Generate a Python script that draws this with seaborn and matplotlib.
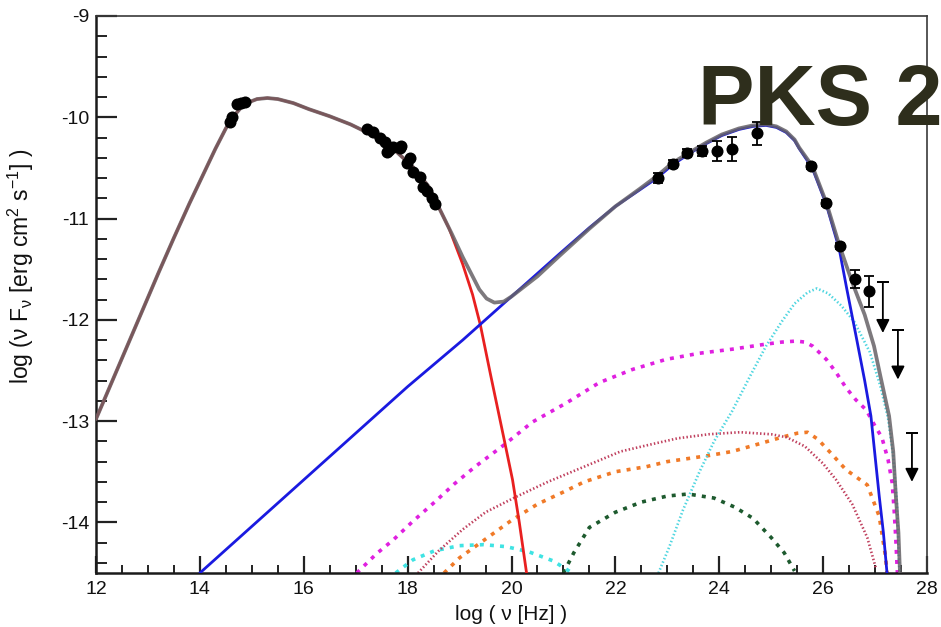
import matplotlib
matplotlib.use("Agg")
import matplotlib.pyplot as plt
import seaborn as sns
from matplotlib.ticker import MultipleLocator

# ---- model components: log nu [Hz] vs log nuFnu [erg cm^-2 s^-1] ----
total_x = [12.0, 12.3, 12.6, 12.9, 13.2, 13.5, 13.8, 14.05, 14.3, 14.5, 14.65, 14.8, 14.95,
           15.1, 15.3, 15.5, 15.8, 16.1, 16.5, 16.9, 17.3, 17.7, 18.1, 18.4, 18.62, 18.85,
           19.06, 19.25, 19.38, 19.52, 19.67, 19.85, 20.0, 20.5, 20.92, 21.5, 22.0, 22.46,
           22.8, 23.1, 23.45, 23.75, 24.05, 24.38, 24.65, 24.9, 25.1, 25.29, 25.45, 25.54,
           25.79, 26.06, 26.31, 26.56, 26.8, 26.98, 27.1, 27.27, 27.35, 27.4, 27.45, 27.48]
total_y = [-12.98, -12.62, -12.26, -11.9, -11.54, -11.19, -10.85, -10.58, -10.31, -10.11, -9.99,
           -9.9, -9.85, -9.82, -9.81, -9.82, -9.86, -9.92, -9.99, -10.07, -10.17, -10.3, -10.49,
           -10.68, -10.91, -11.15, -11.38, -11.57, -11.70, -11.79, -11.83, -11.82, -11.77, -11.57,
           -11.37, -11.1, -10.88, -10.71, -10.58, -10.45, -10.34, -10.25, -10.17, -10.11, -10.08,
           -10.07, -10.09, -10.14, -10.22, -10.3, -10.48, -10.84, -11.26, -11.63, -11.95, -12.26,
           -12.55, -12.95, -13.3, -13.74, -14.1, -14.5]

sync_x = [12.0, 12.3, 12.6, 12.9, 13.2, 13.5, 13.8, 14.05, 14.3, 14.5, 14.65, 14.8, 14.95,
          15.1, 15.3, 15.5, 15.8, 16.1, 16.5, 16.9, 17.3, 17.7, 18.1, 18.4, 18.62, 18.8,
          19.06, 19.25, 19.4, 19.6, 19.87, 20.02, 20.15, 20.29]
sync_y = [-12.98, -12.62, -12.26, -11.9, -11.54, -11.19, -10.85, -10.58, -10.31, -10.11, -9.99,
          -9.9, -9.85, -9.82, -9.81, -9.82, -9.86, -9.92, -9.99, -10.07, -10.17, -10.3, -10.49,
          -10.68, -10.91, -11.1, -11.45, -11.75, -12.05, -12.55, -13.21, -13.58, -14.0, -14.5]

ic_x = [14.0, 15.0, 16.0, 17.0, 18.0, 19.06, 20.0, 20.92, 21.5, 22.0, 22.46, 22.8, 23.1, 23.45,
        23.75, 24.05, 24.38, 24.65, 24.9, 25.1, 25.29, 25.45, 25.54, 25.79, 26.06, 26.31, 26.45,
        26.63, 26.8, 26.92, 27.08, 27.16, 27.23]
ic_y = [-14.5, -14.04, -13.58, -13.12, -12.66, -12.2, -11.77, -11.35, -11.09, -10.88, -10.72, -10.6,
        -10.47, -10.35, -10.26, -10.18, -10.12, -10.09, -10.08, -10.1, -10.15, -10.23, -10.31, -10.5,
        -10.86, -11.3, -11.68, -12.15, -12.6, -12.95, -13.74, -14.1, -14.5]

mag_x = [17.02, 17.4, 17.73, 18.1, 18.52, 18.9, 19.3, 19.87, 20.4, 21.06, 21.69, 22.33, 22.98,
         23.62, 24.25, 24.9, 25.2, 25.48, 25.65, 25.8, 26.06, 26.25, 26.44, 26.63, 26.83, 27.0,
         27.13, 27.25, 27.33, 27.37, 27.4, 27.43]
mag_y = [-14.5, -14.31, -14.17, -13.99, -13.8, -13.62, -13.45, -13.23, -13.01, -12.82, -12.62,
         -12.49, -12.39, -12.33, -12.29, -12.24, -12.22, -12.21, -12.22, -12.26, -12.39, -12.52,
         -12.67, -12.79, -12.89, -13.05, -13.16, -13.38, -13.61, -13.9, -14.17, -14.5]

cyd_x = [17.77, 18.1, 18.52, 19.0, 19.46, 19.9, 20.33, 20.8, 21.17]
cyd_y = [-14.5, -14.37, -14.28, -14.23, -14.22, -14.24, -14.29, -14.38, -14.5]

rdot_x = [18.2, 18.6, 19.06, 19.5, 20.08, 20.7, 21.4, 22.1, 22.6, 23.2, 23.8, 24.4, 25.0, 25.3,
          25.65, 26.0, 26.25, 26.56, 26.85, 27.02]
rdot_y = [-14.5, -14.28, -14.07, -13.9, -13.75, -13.6, -13.45, -13.3, -13.24, -13.17, -13.13,
          -13.11, -13.13, -13.16, -13.25, -13.42, -13.58, -13.82, -14.15, -14.46]

ora_x = [18.7, 19.0, 19.46, 20.0, 20.5, 21.0, 21.4, 22.0, 22.6, 23.0, 23.8, 24.25, 24.8, 25.2,
         25.5, 25.7, 25.9, 26.12, 26.44, 26.85, 27.08, 27.2, 27.23]
ora_y = [-14.5, -14.35, -14.18, -13.98, -13.82, -13.7, -13.6, -13.5, -13.45, -13.4, -13.34, -13.3,
         -13.22, -13.16, -13.12, -13.11, -13.18, -13.3, -13.48, -13.63, -13.94, -14.33, -14.5]

grn_x = [21.0, 21.2, 21.5, 22.0, 22.5, 23.0, 23.4, 23.9, 24.3, 24.65, 25.0, 25.25, 25.45]
grn_y = [-14.5, -14.3, -14.05, -13.9, -13.8, -13.74, -13.72, -13.76, -13.85, -13.96, -14.15,
         -14.3, -14.48]

cdot_x = [22.83, 23.04, 23.3, 23.62, 23.9, 24.25, 24.6, 24.9, 25.2, 25.45, 25.7, 25.88, 26.1,
          26.35, 26.6, 26.9, 27.1, 27.25, 27.35, 27.42, 27.47]
cdot_y = [-14.5, -14.24, -13.88, -13.5, -13.2, -12.9, -12.55, -12.26, -12.02, -11.84, -11.73,
          -11.69, -11.74, -11.86, -12.02, -12.32, -12.65, -12.97, -13.35, -13.8, -14.5]

# ---- observed fluxes ----
opt_x = [14.58, 14.62, 14.72, 14.8, 14.87]
opt_y = [-10.05, -10.0, -9.87, -9.86, -9.85]

xray_x = [17.21, 17.33, 17.46, 17.56, 17.6, 17.65, 17.71, 17.85, 17.87, 17.98, 18.04, 18.1,
          18.23, 18.29, 18.38, 18.46, 18.52]
xray_y = [-10.12, -10.15, -10.2, -10.24, -10.34, -10.32, -10.29, -10.3, -10.28, -10.45, -10.4,
          -10.54, -10.59, -10.69, -10.73, -10.8, -10.86]

gev_x = [22.83, 23.1, 23.38, 23.67, 23.96, 24.25, 24.72]
gev_y = [-10.6, -10.46, -10.35, -10.33, -10.33, -10.31, -10.16]
gev_err = [0.05, 0.04, 0.04, 0.05, 0.1, 0.12, 0.11]

tev_x = [25.77, 26.06, 26.33, 26.62, 26.88]
tev_y = [-10.48, -10.85, -11.27, -11.6, -11.72]
tev_err = [0.03, 0.03, 0.03, 0.09, 0.15]

ul_x = [27.15, 27.44, 27.71]
ul_top = [-11.63, -12.1, -13.12]
ul_tip = [-12.13, -12.59, -13.6]

xticks = [12, 14, 16, 18, 20, 22, 24, 26, 28]
yticks = [-14, -13, -12, -11, -10, -9]

sns.set_theme(style="ticks")
plt.rcParams["font.family"] = ["Liberation Sans", "DejaVu Sans"]
plt.rcParams["axes.unicode_minus"] = False
plt.rcParams["mathtext.fontset"] = "custom"
plt.rcParams["mathtext.rm"] = "Liberation Sans"
plt.rcParams["mathtext.it"] = "Liberation Sans:italic"

fig, ax = plt.subplots(figsize=(9.41, 6.27), dpi=100)
fig.subplots_adjust(left=96 / 941, right=927 / 941, bottom=54 / 627, top=611 / 627)


def curve(x, y, color, lw, ls="-", z=2, alpha=1.0):
    sns.lineplot(x=x, y=y, ax=ax, color=color, linewidth=lw, linestyle=ls,
                 estimator=None, sort=False, zorder=z, alpha=alpha, legend=False)


dash = (0, (1.1, 1.7))
dots = (0, (0.55, 0.85))
curve(grn_x, grn_y, "#1d5a2e", 2.6, dash, z=2)
curve(cyd_x, cyd_y, "#3fe3e3", 2.6, dash, z=2)
curve(ora_x, ora_y, "#f07a28", 2.6, dash, z=2)
curve(rdot_x, rdot_y, "#c0405e", 1.9, dots, z=2)
curve(cdot_x, cdot_y, "#4fd6e0", 1.9, dots, z=2)
curve(mag_x, mag_y, "#e020e0", 2.6, dash, z=2)
curve(sync_x, sync_y, "#e82020", 2.0, z=3)
curve(ic_x, ic_y, "#1a1ae0", 2.0, z=3)
curve(total_x, total_y, "#666266", 2.7, z=4, alpha=0.85)

# measurements
ax.errorbar(gev_x + tev_x, gev_y + tev_y, yerr=gev_err + tev_err, fmt="none",
            ecolor="black", elinewidth=1.3, capsize=3.5, capthick=1.3, zorder=5)
pts_x = opt_x + xray_x + gev_x + tev_x
pts_y = opt_y + xray_y + gev_y + tev_y
sns.scatterplot(x=pts_x, y=pts_y, ax=ax, color="black", s=75, edgecolor="black",
                linewidth=0, zorder=6, legend=False)

# upper limits
ax.errorbar(ul_x, ul_top, yerr=[0] * len(ul_x), fmt="none", ecolor="black",
            capsize=4.5, capthick=1.3, zorder=5)
for x, top, tip in zip(ul_x, ul_top, ul_tip):
    ax.annotate("", xy=(x, tip), xytext=(x, top),
                arrowprops=dict(arrowstyle="-|>", color="black", lw=1.3,
                                mutation_scale=20, shrinkA=0, shrinkB=0),
                zorder=5)

ax.set_xlim(12, 28)
ax.set_ylim(-14.5, -9)
ax.set_xticks(xticks, [str(v) for v in xticks])
ax.set_yticks(yticks, [str(v) for v in yticks])
ax.xaxis.set_minor_locator(MultipleLocator(0.5))
ax.yaxis.set_minor_locator(MultipleLocator(0.2))
ax.tick_params(axis="both", which="both", direction="in", top=False, right=False,
               color="#222222", labelcolor="#111111")
ax.tick_params(axis="y", which="major", length=15, width=1.6, labelsize=14, pad=5)
ax.tick_params(axis="y", which="minor", length=8, width=1.4)
ax.tick_params(axis="x", which="major", length=12, width=1.6, labelsize=14, pad=6)
ax.tick_params(axis="x", which="minor", length=6, width=1.4)

for side in ("left", "bottom"):
    ax.spines[side].set_color("#1a1a1a")
    ax.spines[side].set_linewidth(1.8)
for side in ("top", "right"):
    ax.spines[side].set_color("#3a3a3a")
    ax.spines[side].set_linewidth(1.2)

ax.set_xlabel("log ( ν [Hz] )", fontsize=15, color="#111111")
ax.set_ylabel(r"log (ν F$_\mathrm{ν}$ [erg cm$^\mathrm{2}$ s$^\mathrm{-1}$] )", fontsize=16.5,
              color="#111111")
ax.xaxis.set_label_coords(0.5, -0.058)
ax.yaxis.set_label_coords(-0.072, 0.55)

fig.text(698 / 941, 1 - 125 / 627, "PKS 2", fontsize=61, fontweight="bold",
         color="#2e2e1c", ha="left", va="baseline", zorder=10)

fig.savefig("out.png", dpi=100)
